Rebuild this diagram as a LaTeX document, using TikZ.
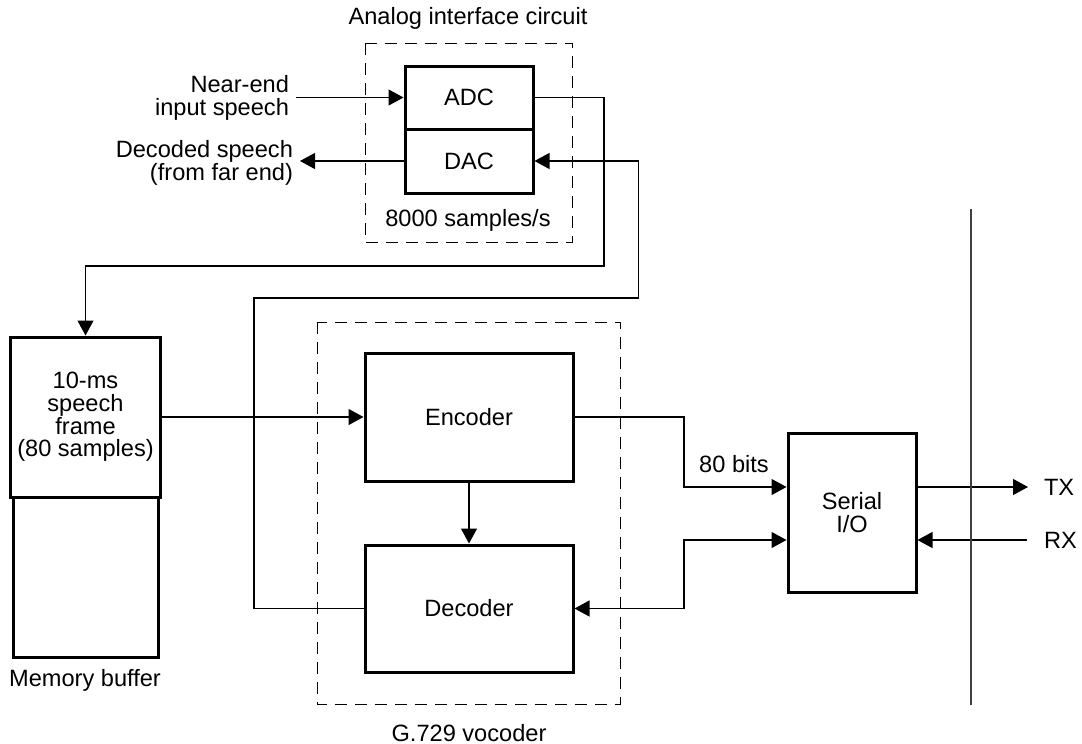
\documentclass[tikz,border=0pt]{standalone}
\usepackage{fontspec}
\setmainfont{Liberation Sans}
\usetikzlibrary{arrows.meta}

\tikzset{
  block/.style={draw, line width=1.5pt, rectangle},
  groupbox/.style={draw, line width=0.5pt, dash pattern=on 6pt off 4pt},
  sig/.style={line width=0.6pt, -{Triangle[length=7.5pt,width=8pt]}},
  bisig/.style={line width=0.6pt, {Triangle[length=7.5pt,width=8pt]}-{Triangle[length=7.5pt,width=8pt]}}
}

\begin{document}
\begin{tikzpicture}[x=0.5pt,y=-0.5pt,font=\fontsize{11.8}{11.4}\selectfont]
    \useasboundingbox (0,0) rectangle (1082,744);
    % dashed groups
    \draw[groupbox] (365,43) rectangle (572,242);
    \draw[groupbox] (317,322) rectangle (620,704);
    \node at (468,18) {Analog interface circuit};
    \node at (468,220) {8000 samples/s};
    \node at (469,733) {G.729 vocoder};
    % blocks
    \node[block, minimum width=64pt, minimum height=31.5pt] (adc) at (469,97.5) {ADC};
    \node[block, minimum width=64pt, minimum height=32pt] (dac) at (469,161) {DAC};
    \node[block, minimum width=72.5pt, minimum height=80pt, align=center] (memframe) at (85.5,417) {10-ms\\speech\\frame\\(80 samples)};
    \node[block, minimum width=72.5pt, minimum height=80pt] (membuf) at (85.5,577) {};
    \node at (85,680) {Memory buffer};
    \node[block, minimum width=104pt, minimum height=64pt] (enc) at (469,417) {Encoder};
    \node[block, minimum width=104pt, minimum height=63.5pt] (dec) at (469,608.5) {Decoder};
    \node[block, minimum width=64pt, minimum height=79.5pt, align=center] (sio) at (852,512.5) {Serial\\I/O};
    % speech in and out
    \node[anchor=east, align=right] (nearlbl) at (296,98) {Near-end\\input speech};
    \node[anchor=east, align=right] (declbl) at (300,163) {Decoded speech\\(from far end)};
    \draw[sig] (nearlbl.east |- adc.west) -- (adc.west);
    \draw[sig] (dac.west) -- (declbl.east |- dac.west);
    % loops to the buffer and back to the DAC
    \draw[sig] (adc.east) -| (604,266) -| (memframe.north);
    \draw[sig] (dec.west) -| (254,298) -| ([xshift=52pt]dac.east) -- (dac.east);
    \draw[sig] (memframe.east) -- (enc.west);
    \draw[sig] (enc.south) -- (dec.north);
    % to and from the serial port
    \draw[sig] (enc.east) -| (684,487) -- ([yshift=12.75pt]sio.west);
    \node at (734,464) {80 bits};
    \draw[bisig] ([yshift=-13.75pt]sio.west) -| (684,608.5) -- (dec.east);
    \coordinate (txend) at (1028,487);
    \coordinate (rxstart) at (1027,540);
    \draw[sig] ([yshift=12.75pt]sio.east) -- (txend);
    \draw[sig] (rxstart) -- ([yshift=-13.75pt]sio.east);
    \node[anchor=west] (tx) at (1037,487) {TX};
    \node[anchor=west] (rx) at (1037,540) {RX};
    \draw[line width=0.8pt, black!75] (971,209) -- (971,705);
\end{tikzpicture}
\end{document}
